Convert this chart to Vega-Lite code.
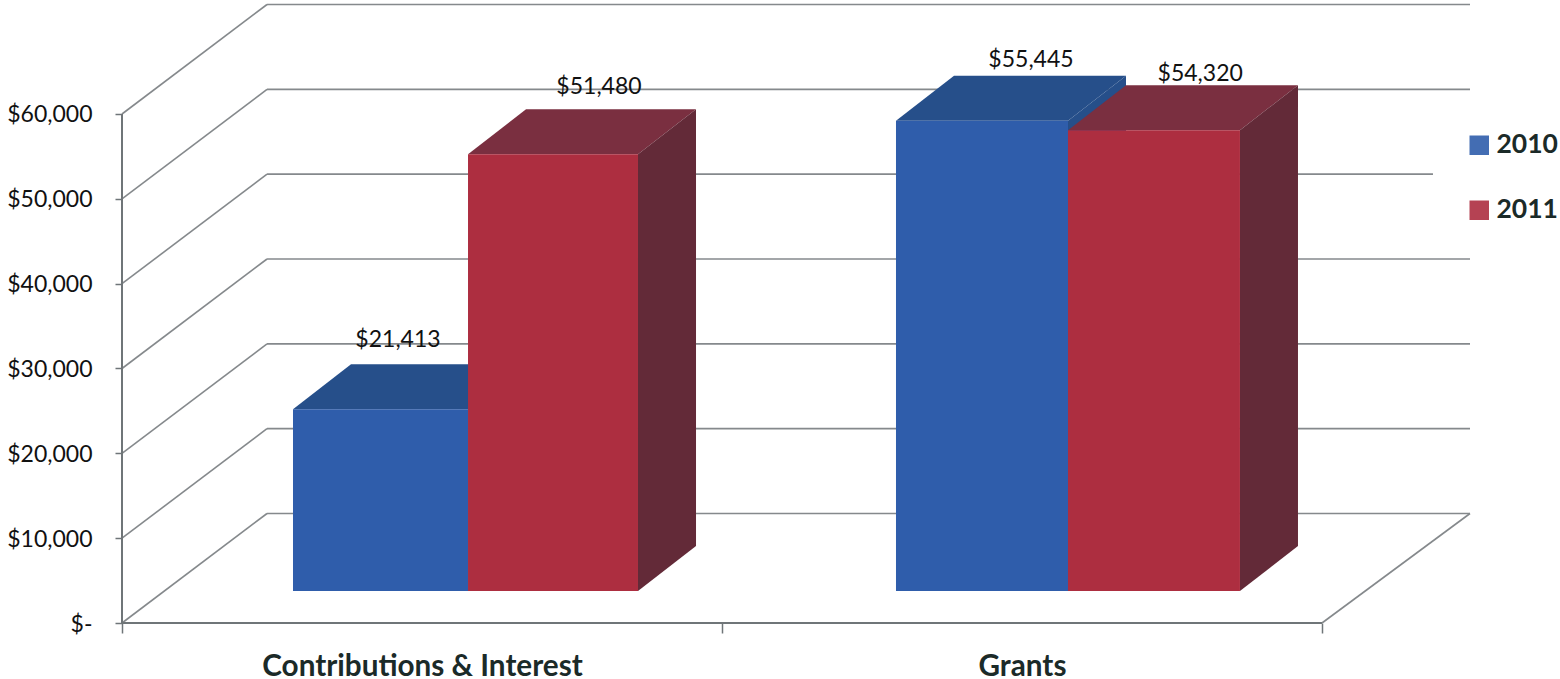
{
"$schema":"https://vega.github.io/schema/vega-lite/v6.json",
"autosize":"none",
"width":1438,"height":623,
"padding":{"left":122,"top":0,"right":0,"bottom":56},
"background":"white",
"config":{"view":{"stroke":null},"axis":{"grid":false}},
"datasets":{
"grid":[
{"x":0,"x2":0.2417,"y":0,"y2":12908},
{"x":0,"x2":0.2417,"y":10000,"y2":22908},
{"x":0,"x2":0.2417,"y":20000,"y2":32908},
{"x":0,"x2":0.2417,"y":30000,"y2":42908},
{"x":0,"x2":0.2417,"y":40000,"y2":52908},
{"x":0,"x2":0.2417,"y":50000,"y2":62908},
{"x":0,"x2":0.2417,"y":60000,"y2":72908},
{"x":0.2417,"x2":2.2467,"y":12908,"y2":12908},
{"x":0.2417,"x2":2.2467,"y":22908,"y2":22908},
{"x":0.2417,"x2":2.2467,"y":32908,"y2":32908},
{"x":0.2417,"x2":2.2467,"y":42908,"y2":42908},
{"x":0.2417,"x2":2.185,"y":52908,"y2":52908},
{"x":0.2417,"x2":2.2467,"y":62908,"y2":62908},
{"x":0.2417,"x2":2.2467,"y":72908,"y2":72908},
{"x":2,"x2":2.2467,"y":0,"y2":12908}
],
"frame":[
{"x":0,"x2":0,"y":0,"y2":60000},
{"x":0,"x2":2,"y":0,"y2":0}
],
"bars":[
{"category":"Contributions & Interest","year":"2010","value":21413,"start":0.285,"end":0.5767,"labelX":0.46,"labelY":29588},
{"category":"Contributions & Interest","year":"2011","value":51480,"start":0.5767,"end":0.86,"labelX":0.795,"labelY":59412},
{"category":"Grants","year":"2010","value":55445,"start":1.29,"end":1.5767,"labelX":1.515,"labelY":62594},
{"category":"Grants","year":"2011","value":54320,"start":1.5767,"end":1.8633,"labelX":1.797,"labelY":60944}
],
"faces":[
{"bar":"c10","year":"2010","face":"top","x":0.285,"y":21413,"y2":21413},
{"bar":"c10","year":"2010","face":"top","x":0.3817,"y":26718,"y2":21413},
{"bar":"c10","year":"2010","face":"top","x":0.5767,"y":26718,"y2":21413},
{"bar":"c10","year":"2010","face":"top","x":0.6734,"y":26718,"y2":26718},
{"bar":"g10","year":"2010","face":"top","x":1.29,"y":55445,"y2":55445},
{"bar":"g10","year":"2010","face":"top","x":1.3867,"y":60750,"y2":55445},
{"bar":"g10","year":"2010","face":"top","x":1.5767,"y":60750,"y2":55445},
{"bar":"g10","year":"2010","face":"top","x":1.6734,"y":60750,"y2":60750},
{"bar":"g10","year":"2010","face":"side","x":1.5767,"y":55445,"y2":0},
{"bar":"g10","year":"2010","face":"side","x":1.6734,"y":60750,"y2":5305},
{"bar":"c11","year":"2011","face":"top","x":0.5767,"y":51480,"y2":51480},
{"bar":"c11","year":"2011","face":"top","x":0.6734,"y":56785,"y2":51480},
{"bar":"c11","year":"2011","face":"top","x":0.86,"y":56785,"y2":51480},
{"bar":"c11","year":"2011","face":"top","x":0.9567,"y":56785,"y2":56785},
{"bar":"c11","year":"2011","face":"side","x":0.86,"y":51480,"y2":0},
{"bar":"c11","year":"2011","face":"side","x":0.9567,"y":56785,"y2":5305},
{"bar":"g11","year":"2011","face":"top","x":1.5767,"y":54320,"y2":54320},
{"bar":"g11","year":"2011","face":"top","x":1.6734,"y":59625,"y2":54320},
{"bar":"g11","year":"2011","face":"top","x":1.8633,"y":59625,"y2":54320},
{"bar":"g11","year":"2011","face":"top","x":1.96,"y":59625,"y2":59625},
{"bar":"g11","year":"2011","face":"side","x":1.8633,"y":54320,"y2":0},
{"bar":"g11","year":"2011","face":"side","x":1.96,"y":59625,"y2":5305}
]
},
"resolve":{"scale":{"y":"independent"}},
"layer":[
{"data":{"name":"grid"},
 "mark":{"type":"rule","color":"#85898c","strokeWidth":1.6},
 "encoding":{
  "x":{"field":"x","type":"quantitative","scale":{"domain":[0,2.3967],"nice":false,"zero":false},
   "axis":{"title":null,"values":[0,0.5,1,1.5,2],"domain":false,"tickColor":"#6f7578","tickWidth":1.5,"tickSize":10,
    "tickOpacity":{"condition":{"test":"datum.value==0.5||datum.value==1.5","value":0},"value":1},
    "labelExpr":"datum.value==0.5?'Contributions & Interest':datum.value==1.5?'Grants':''",
    "labelFont":"Lato","labelFontWeight":"bold","labelFontSize":29.7,"labelColor":"#1b2a28","labelPadding":19,"labelLimit":500,"labelOverlap":false,"labelFlush":false}},
  "x2":{"field":"x2"},
  "y":{"field":"y","type":"quantitative","scale":{"domain":[0,73438],"nice":false,"zero":false},
   "axis":{"title":null,"values":[0,10000,20000,30000,40000,50000,60000],"domain":false,"tickColor":"#6f7578","tickWidth":1.5,"tickSize":7,
    "labelExpr":"datum.value==0?'$-':format(datum.value,'$,.0f')",
    "labelFont":"Lato","labelFontSize":23,"labelColor":"#111111","labelPadding":23,"labelOffset":1,"labelOverlap":false,"labelFlush":false}},
  "y2":{"field":"y2"}
 }},
{"data":{"name":"frame"},
 "mark":{"type":"rule","color":"#6f7578","strokeWidth":2},
 "encoding":{
  "x":{"field":"x","type":"quantitative"},
  "x2":{"field":"x2"},
  "y":{"field":"y","type":"quantitative","scale":{"domain":[0,73438],"nice":false,"zero":false},"axis":null},
  "y2":{"field":"y2"}
 }},
{"data":{"name":"faces"},"transform":[{"filter":"datum.year=='2010'"}],
 "mark":{"type":"area","orient":"vertical","color":"#264f8a"},
 "encoding":{
  "x":{"field":"x","type":"quantitative"},
  "y":{"field":"y","type":"quantitative","stack":null,"scale":{"domain":[-3772,69666],"nice":false,"zero":false},"axis":null},
  "y2":{"field":"y2"},
  "detail":[{"field":"bar"},{"field":"face"}]
 }},
{"data":{"name":"bars"},"transform":[{"filter":"datum.year=='2010'"}],
 "mark":{"type":"rect"},
 "encoding":{
  "x":{"field":"start","type":"quantitative"},"x2":{"field":"end"},
  "y":{"field":"value","type":"quantitative","scale":{"domain":[-3772,69666],"nice":false,"zero":false},"axis":null},
  "y2":{"datum":0},
  "color":{"field":"year","type":"nominal","scale":{"domain":["2010","2011"],"range":["#2f5dab","#ad2e40"]},
   "legend":{"title":null,"orient":"none","legendX":1344,"legendY":132,"symbolType":"square","symbolSize":380,"symbolStrokeWidth":0,"symbolOpacity":0.9,"labelFont":"Lato","labelFontWeight":"bold","labelFontSize":26.5,"labelColor":"#1b2a28","rowPadding":38,"labelOffset":4,"labelLimit":200}}
 }},
{"data":{"name":"faces"},"transform":[{"filter":"datum.year=='2011'&&datum.face=='top'"}],
 "mark":{"type":"area","orient":"vertical","color":"#7a2f40"},
 "encoding":{
  "x":{"field":"x","type":"quantitative"},
  "y":{"field":"y","type":"quantitative","stack":null,"scale":{"domain":[-3772,69666],"nice":false,"zero":false},"axis":null},
  "y2":{"field":"y2"},
  "detail":{"field":"bar"}
 }},
{"data":{"name":"faces"},"transform":[{"filter":"datum.year=='2011'&&datum.face=='side'"}],
 "mark":{"type":"area","orient":"vertical","color":"#632a38"},
 "encoding":{
  "x":{"field":"x","type":"quantitative"},
  "y":{"field":"y","type":"quantitative","stack":null,"scale":{"domain":[-3772,69666],"nice":false,"zero":false},"axis":null},
  "y2":{"field":"y2"},
  "detail":{"field":"bar"}
 }},
{"data":{"name":"bars"},"transform":[{"filter":"datum.year=='2011'"}],
 "mark":{"type":"rect"},
 "encoding":{
  "x":{"field":"start","type":"quantitative"},"x2":{"field":"end"},
  "y":{"field":"value","type":"quantitative","scale":{"domain":[-3772,69666],"nice":false,"zero":false},"axis":null},
  "y2":{"datum":0},
  "color":{"field":"year","type":"nominal"}
 }},
{"data":{"name":"bars"},
 "mark":{"type":"text","font":"Lato","fontSize":23,"color":"#111111","baseline":"middle","align":"center"},
 "encoding":{
  "x":{"field":"labelX","type":"quantitative"},
  "y":{"field":"labelY","type":"quantitative","scale":{"domain":[-3772,69666],"nice":false,"zero":false},"axis":null},
  "text":{"field":"value","type":"quantitative","format":"$,.0f"}
 }}
]
}
